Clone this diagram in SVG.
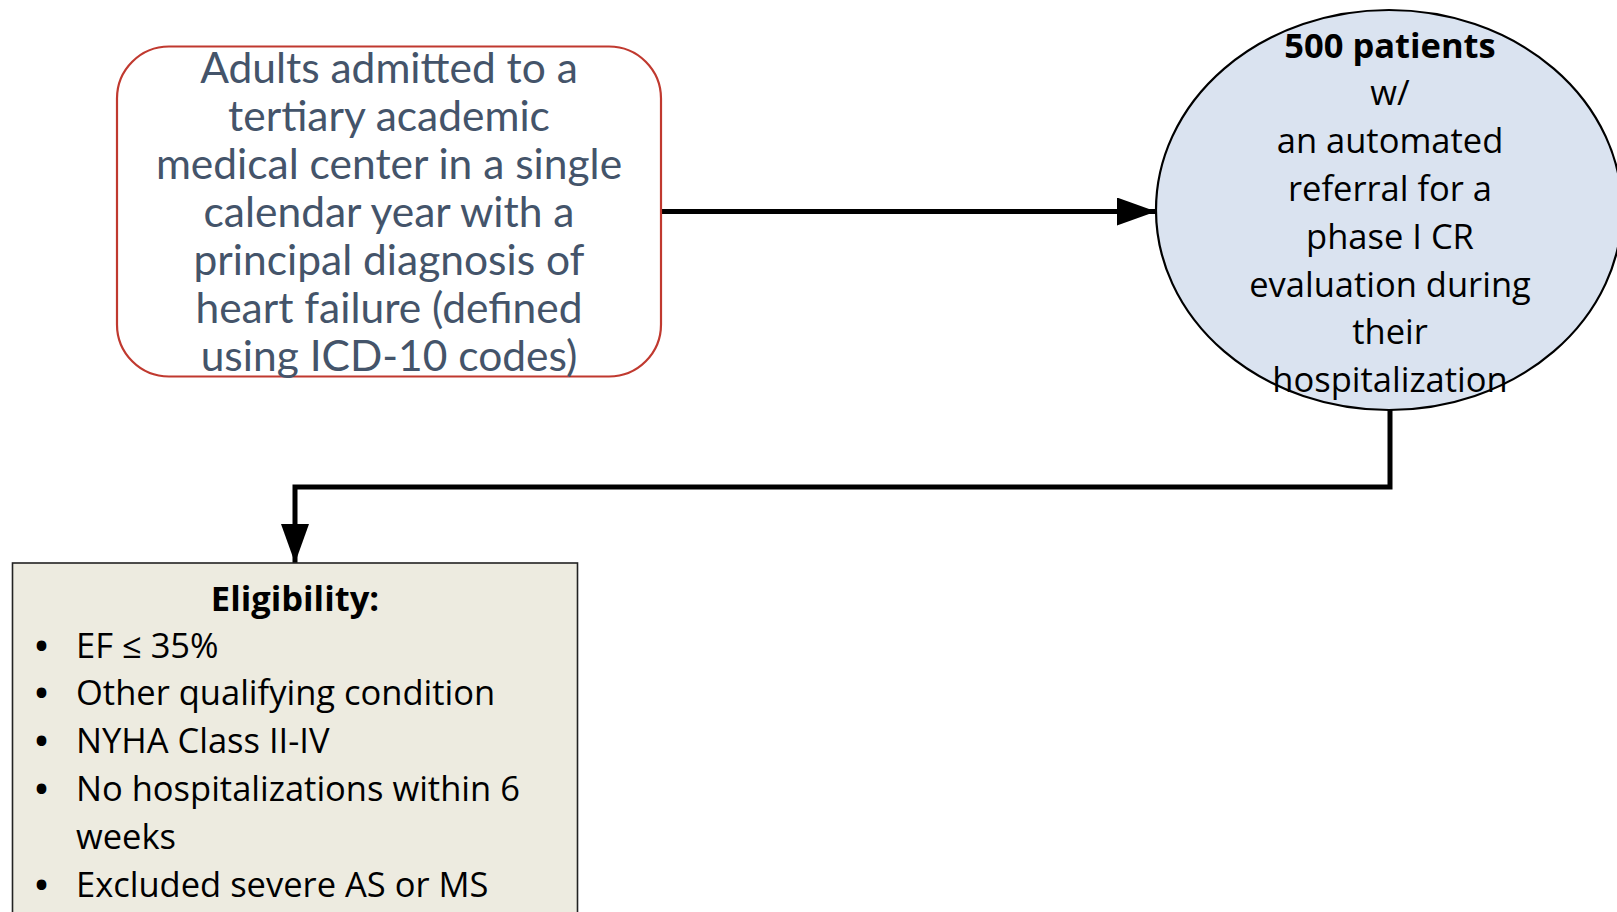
<svg xmlns="http://www.w3.org/2000/svg" width="1617" height="912" viewBox="0 0 1617 912">
<style>
.src{fill:#ffffff;stroke:#C0392F;stroke-width:2.2}
.srct{font-family:Lato,"Open Sans",sans-serif;font-size:42.5px;fill:#44546A;text-anchor:middle}
.ell{fill:#DAE3F0;stroke:#000;stroke-width:2.2}
.ct{font-family:"Open Sans","Noto Sans",sans-serif;font-size:34.5px;fill:#000}
.mid{text-anchor:middle}
.b{font-weight:bold}
.bul{font-weight:bold}
.elig{fill:#EDEBE0;stroke:#222;stroke-width:1.6}
.conn{fill:none;stroke:#000;stroke-width:5}
</style>
<defs>
<marker id="ah" markerUnits="userSpaceOnUse" markerWidth="39" markerHeight="28" refX="39" refY="14" orient="auto" viewBox="0 0 39 28">
<path d="M0,0 L39,14 L0,28 Z" fill="#000"/>
</marker>
</defs>
<rect width="1617" height="912" fill="#fff"/>
<g id="connectors">
<path class="conn" d="M661,211.5 L1156,211.5" marker-end="url(#ah)"/>
<path class="conn" d="M1390,410 L1390,487 L295,487 L295,563" marker-end="url(#ah)"/>
</g>
<g id="node-population">
<rect class="src" x="117" y="46.5" width="544" height="330" rx="52" ry="52"/>
<text class="srct" x="389" y="83">Adults admitted to a</text>
<text class="srct" x="389" y="131">tertiary academic</text>
<text class="srct" x="389" y="179">medical center in a single</text>
<text class="srct" x="389" y="227">calendar year with a</text>
<text class="srct" x="389" y="275">principal diagnosis of</text>
<text class="srct" x="389" y="323">heart failure (defined</text>
<text class="srct" x="389" y="371">using ICD-10 codes)</text>
</g>
<g id="node-referral">
<ellipse class="ell" cx="1389" cy="210" rx="233" ry="200"/>
<text class="ct mid b" x="1390" y="58">500 patients</text>
<text class="ct mid" x="1390" y="105">w/</text>
<text class="ct mid" x="1390" y="153">an automated</text>
<text class="ct mid" x="1390" y="201">referral for a</text>
<text class="ct mid" x="1390" y="249">phase I CR</text>
<text class="ct mid" x="1390" y="297">evaluation during</text>
<text class="ct mid" x="1390" y="344">their</text>
<text class="ct mid" x="1390" y="392">hospitalization</text>
</g>
<g id="node-eligibility">
<rect class="elig" x="12.5" y="563" width="565" height="360"/>
<text class="ct mid b" x="295" y="611">Eligibility:</text>
<g class="ct">
<text class="bul" x="35" y="658">•</text><text x="76" y="658">EF ≤ 35%</text>
<text class="bul" x="35" y="705">•</text><text x="76" y="705">Other qualifying condition</text>
<text class="bul" x="35" y="753">•</text><text x="76" y="753">NYHA Class II-IV</text>
<text class="bul" x="35" y="801">•</text><text x="76" y="801">No hospitalizations within 6</text>
<text x="76" y="849">weeks</text>
<text class="bul" x="35" y="897">•</text><text x="76" y="897">Excluded severe AS or MS</text>
</g>
</g>
</svg>
